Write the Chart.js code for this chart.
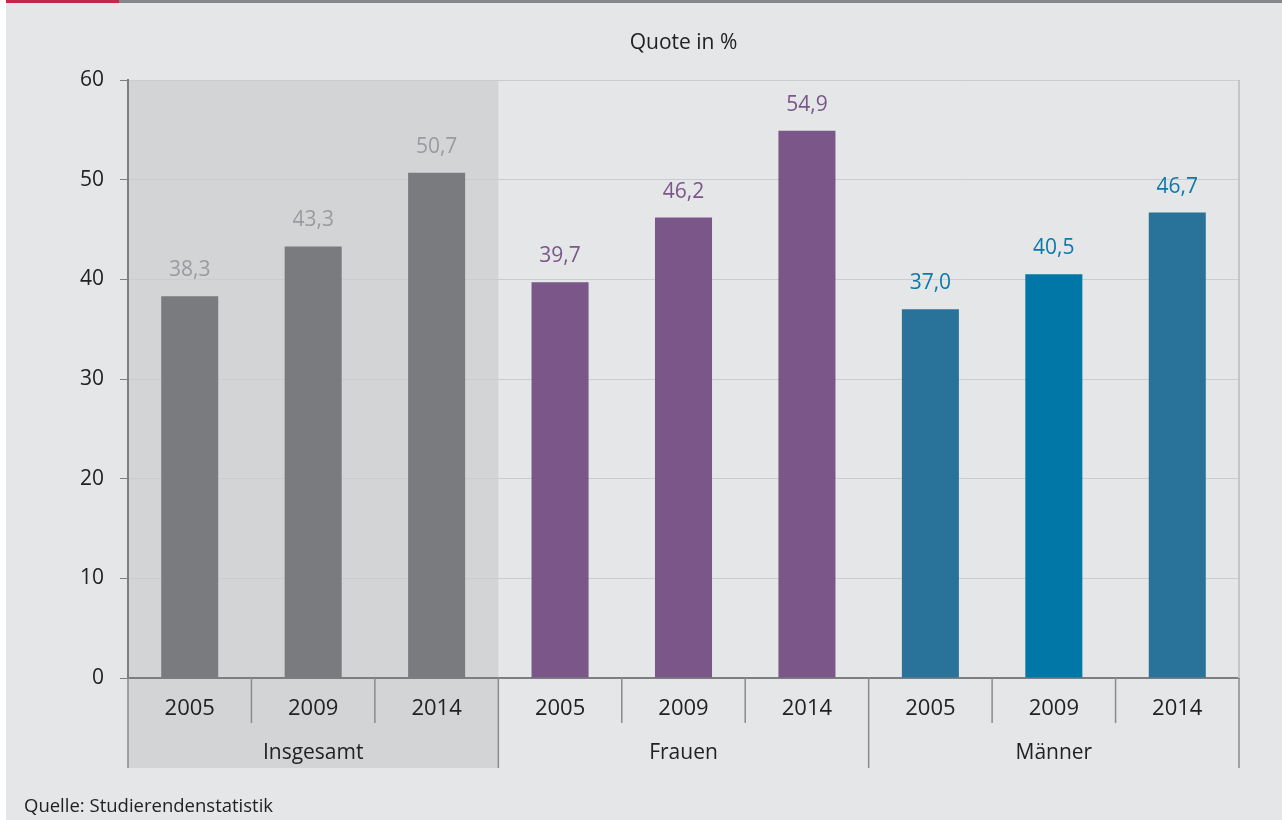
<!DOCTYPE html>
<html lang="de">
<head>
<meta charset="utf-8">
<title>Quote in %</title>
<script src="https://cdn.jsdelivr.net/npm/chart.js@4.4.1/dist/chart.umd.min.js"></script>
<style>
  html, body { margin: 0; padding: 0; background: #ffffff; }
  #panel { position: absolute; left: 6px; top: 0; width: 1276px; height: 820px; background: #e5e6e8; overflow: hidden; }
  #stripeRed { position: absolute; left: 0; top: 0; width: 113px; height: 3px; background: #c3274b; }
  #stripeGray { position: absolute; left: 113px; top: 0; right: 0; height: 3px; background: #86878a; }
  #wrap { position: absolute; left: -6px; top: 0; width: 1282px; height: 820px; }
  #source { position: absolute; left: 18px; top: 792px; font: 18.5px "Open Sans", sans-serif; color: #222; }
</style>
</head>
<body>
<div id="panel">
  <div id="stripeRed"></div>
  <div id="stripeGray"></div>
  <div id="wrap"><canvas id="myChart" width="1282" height="820"></canvas></div>
  <div id="source">Quelle: Studierendenstatistik</div>
</div>
<script>
// Daten
var jahre = ['2005', '2009', '2014', '2005', '2009', '2014', '2005', '2009', '2014'];
var gruppen = ['Insgesamt', 'Frauen', 'Männer'];
var quoten = [38.3, 43.3, 50.7, 39.7, 46.2, 54.9, 37.0, 40.5, 46.7];
var yTicks = [0, 10, 20, 30, 40, 50, 60];

var barColors = ['#7a7b7f', '#7a7b7f', '#7a7b7f',
                 '#7a5689', '#7a5689', '#7a5689',
                 '#29739a', '#0077a6', '#29739a'];
var labelColors = ['#9a9b9f', '#9a9b9f', '#9a9b9f',
                   '#7a5689', '#7a5689', '#7a5689',
                   '#0a7aa8', '#0a7aa8', '#0a7aa8'];

var FONT = '"Open Sans", sans-serif';

var extras = {
  id: 'extras',
  beforeDraw: function (chart) {
    var c = chart.ctx, x = chart.scales.x, a = chart.chartArea;
    var half = (x.getPixelForValue(1) - x.getPixelForValue(0)) / 2;
    // grau hinterlegter Bereich "Insgesamt"
    c.save();
    c.fillStyle = '#d3d4d6';
    c.fillRect(a.left, a.top, x.getPixelForValue(2) + half - a.left, a.bottom + 90 - a.top);
    c.restore();
  },
  afterDatasetsDraw: function (chart) {
    var c = chart.ctx, x = chart.scales.x, a = chart.chartArea;
    var meta = chart.getDatasetMeta(0);
    var half = (x.getPixelForValue(1) - x.getPixelForValue(0)) / 2;
    c.save();
    // Werte über den Balken
    c.font = '21px ' + FONT;
    c.textAlign = 'center';
    c.textBaseline = 'middle';
    meta.data.forEach(function (bar, i) {
      c.fillStyle = labelColors[i];
      c.fillText(quoten[i].toFixed(1).replace('.', ','), bar.x, bar.y - 26);
    });
    // rechte Begrenzung
    c.strokeStyle = '#c4c5c7';
    c.lineWidth = 2;
    c.beginPath();
    c.moveTo(a.right, a.top);
    c.lineTo(a.right, a.bottom);
    c.stroke();
    // Trennlinien zwischen Jahren
    c.strokeStyle = '#8a8b8d';
    c.lineWidth = 1.5;
    for (var i = 0; i < jahre.length - 1; i++) {
      if (i % 3 === 2) continue;
      var px = x.getPixelForValue(i) + half;
      c.beginPath();
      c.moveTo(px, a.bottom);
      c.lineTo(px, a.bottom + 45);
      c.stroke();
    }
    // Trennlinien zwischen Gruppen
    for (var g = 0; g <= gruppen.length; g++) {
      var gx = g === 0 ? a.left : x.getPixelForValue(g * 3 - 1) + half;
      c.beginPath();
      c.moveTo(gx, a.bottom);
      c.lineTo(gx, a.bottom + 90);
      c.stroke();
    }
    // Gruppenbeschriftung
    c.fillStyle = '#222';
    c.font = '21px ' + FONT;
    gruppen.forEach(function (name, g) {
      c.fillText(name, x.getPixelForValue(g * 3 + 1), a.bottom + 75);
    });
    // Titel
    c.fillText('Quote in %', (a.left + a.right) / 2, 43);
    c.restore();
  }
};

var ctx = document.getElementById('myChart');

new Chart(ctx, {
  type: 'bar',
  data: {
    labels: jahre,
    datasets: [{
      data: quoten,
      backgroundColor: barColors,
      borderWidth: 0,
      categoryPercentage: 1,
      barPercentage: 0.462
    }]
  },
  options: {
    responsive: false,
    animation: false,
    layout: { padding: { left: 0, top: 80, right: 43, bottom: 52 } },
    plugins: { legend: { display: false }, tooltip: { enabled: false } },
    scales: {
      x: {
        grid: { display: false },
        border: { color: '#7d7e80', width: 2 },
        ticks: { color: '#222', font: { family: FONT, size: 22 }, padding: 10 },
        afterFit: function (s) { s.height = 90; }
      },
      y: {
        min: 0,
        max: 60,
        afterBuildTicks: function (s) { s.ticks = yTicks.map(function (v) { return { value: v }; }); },
        grid: { color: '#cbccce', lineWidth: 1, tickLength: 8, tickColor: '#7d7e80' },
        border: { color: '#7d7e80', width: 2 },
        ticks: { color: '#222', font: { family: FONT, size: 21 }, padding: 16 },
        afterFit: function (s) { s.width = 128; }
      }
    }
  },
  plugins: [extras]
});
</script>
</body>
</html>
